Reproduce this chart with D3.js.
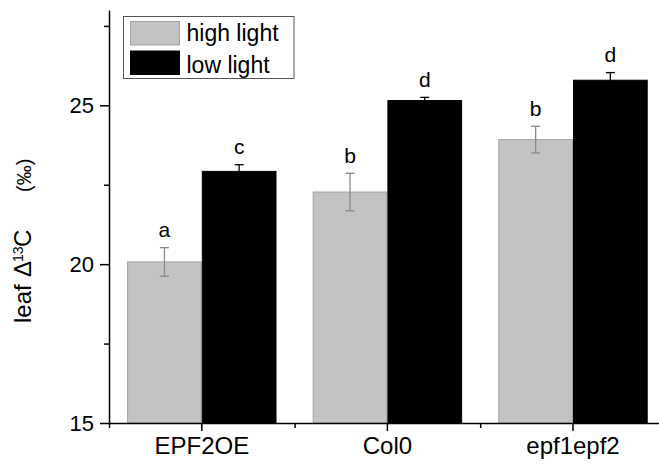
<!DOCTYPE html>
<html>
<head>
<meta charset="utf-8">
<script src="https://cdn.jsdelivr.net/npm/d3@7"></script>
<style>
  html, body { margin: 0; padding: 0; background: #fff; }
  svg { display: block; font-family: "Liberation Sans", Arial, sans-serif; }
</style>
</head>
<body>
<div id="chart"></div>
<script>
// leaf carbon isotope discrimination, high vs low light, per genotype
const categories = ["EPF2OE", "Col0", "epf1epf2"];
const highLight = [20.07, 22.27, 23.92];
const highErr   = [0.45, 0.59, 0.42];
const lowLight  = [22.92, 25.15, 25.79];
const lowErr    = [0.21, 0.10, 0.24];
const highLetters = ["a", "b", "b"];
const lowLetters  = ["c", "d", "d"];
const yMajor = [15, 20, 25];
const yMinor = [17.5, 22.5, 27.5];

const width = 659, height = 464;
const plotLeft = 109, plotTop = 10, plotBottom = 423;
const step = 185.6;

const svg = d3.select("#chart").append("svg")
  .attr("width", width).attr("height", height);

const x = d3.scaleBand()
  .domain(categories)
  .range([plotLeft, plotLeft + step * categories.length])
  .paddingInner(0.195)
  .paddingOuter(0.0975);

const sub = d3.scaleBand()
  .domain(["high", "low"])
  .range([0, x.bandwidth()]);

const y = d3.scaleLinear().domain([15, 28]).range([plotBottom, plotTop]);

// rows for bars
const rows = [];
categories.forEach((c, i) => {
  rows.push({ cat: c, key: "high", v: highLight[i], e: highErr[i], letter: highLetters[i] });
  rows.push({ cat: c, key: "low",  v: lowLight[i],  e: lowErr[i],  letter: lowLetters[i] });
});

const fill = { high: "#c3c3c3", low: "#000" };
const stroke = { high: "#a2a2a2", low: "#000" };
const errColor = { high: "#8a8a8a", low: "#000" };

const bars = svg.append("g");
bars.selectAll("rect")
  .data(rows)
  .join("rect")
  .attr("x", d => x(d.cat) + sub(d.key) + 0.5)
  .attr("y", d => y(d.v))
  .attr("width", sub.bandwidth() - 1)
  .attr("height", d => y(15) - y(d.v))
  .attr("fill", d => fill[d.key])
  .attr("stroke", d => stroke[d.key])
  .attr("stroke-width", 1);

// error bars + significance letters
const cap = 4.5;
const err = svg.append("g");
rows.forEach(d => {
  const cx = x(d.cat) + sub(d.key) + sub.bandwidth() / 2;
  const g = err.append("g").attr("stroke", errColor[d.key]).attr("stroke-width", 1.3);
  g.append("line").attr("x1", cx).attr("x2", cx).attr("y1", y(d.v + d.e)).attr("y2", y(d.v - d.e));
  g.append("line").attr("x1", cx - cap).attr("x2", cx + cap).attr("y1", y(d.v + d.e)).attr("y2", y(d.v + d.e));
  g.append("line").attr("x1", cx - cap).attr("x2", cx + cap).attr("y1", y(d.v - d.e)).attr("y2", y(d.v - d.e));
  svg.append("text")
    .attr("x", cx)
    .attr("y", y(d.v + d.e) - 10.5)
    .attr("text-anchor", "middle")
    .attr("font-size", 21)
    .attr("fill", "#000")
    .text(d.letter);
});

// y axis
const yAxis = svg.append("g")
  .attr("transform", `translate(${plotLeft},0)`)
  .call(d3.axisLeft(y).tickValues(yMajor).tickSize(9).tickSizeOuter(0).tickPadding(6));
yAxis.selectAll("text").attr("font-size", 22).attr("fill", "#000");

const yMin = svg.append("g")
  .attr("transform", `translate(${plotLeft},0)`)
  .call(d3.axisLeft(y).tickValues(yMinor).tickSize(5).tickFormat(""));
yMin.select(".domain").remove();

// x axis
const xAxis = svg.append("g")
  .attr("transform", `translate(0,${plotBottom})`)
  .call(d3.axisBottom(x).tickSize(8).tickSizeOuter(0).tickPadding(6));
xAxis.selectAll("text").attr("font-size", 24).attr("fill", "#000");

const xEdge = d3.scaleLinear().domain([0, categories.length]).range(x.range());
const xMin = svg.append("g")
  .attr("transform", `translate(0,${plotBottom})`)
  .call(d3.axisBottom(xEdge).tickValues(d3.range(0, categories.length + 1)).tickSize(5).tickFormat(""));
xMin.select(".domain").remove();

svg.selectAll(".domain, .tick line").attr("stroke", "#000").attr("stroke-width", 1.5);

// y axis title
const yt = svg.append("text")
  .attr("transform", "translate(31,323) rotate(-90)")
  .attr("font-size", 24)
  .attr("fill", "#000");
yt.append("tspan").attr("x", 0).text("leaf");
yt.append("tspan").attr("x", 46).text("\u0394");
yt.append("tspan").attr("x", 61).attr("dy", -8).attr("font-size", 14).text("13");
yt.append("tspan").attr("x", 76).attr("dy", 8).text("C");
yt.append("tspan").attr("x", 131).attr("font-size", 20).text("(\u2030)");

// legend
const lg = svg.append("g");
lg.append("rect").attr("x", 123.5).attr("y", 16.5).attr("width", 170.5).attr("height", 62)
  .attr("fill", "#fff").attr("stroke", "#555").attr("stroke-width", 1);
const legendItems = [
  { key: "high", label: "high light" },
  { key: "low", label: "low light" }
];
legendItems.forEach((it, i) => {
  lg.append("rect")
    .attr("x", 130.5).attr("y", 21.5 + i * 29.5)
    .attr("width", 49).attr("height", 23.5)
    .attr("fill", fill[it.key]).attr("stroke", stroke[it.key]);
  lg.append("text")
    .attr("x", 186.5).attr("y", 40.7 + i * 32.6)
    .attr("font-size", 23).attr("fill", "#000")
    .text(it.label);
});
</script>
</body>
</html>
